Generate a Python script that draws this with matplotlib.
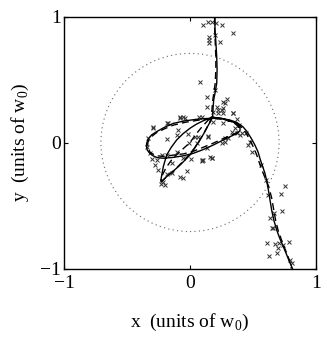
import numpy as np
import matplotlib
matplotlib.use('Agg')
import matplotlib.pyplot as plt
from matplotlib.patches import Circle

plt.rcParams['font.family'] = 'Liberation Serif'
plt.rcParams['mathtext.fontset'] = 'custom'
plt.rcParams['mathtext.rm'] = 'Liberation Serif'

# Fitted trajectory (solid).
solid_x = [0.198, 0.198, 0.205, 0.212, 0.215, 0.212, 0.200, 0.188, 0.183, 0.180,
           0.165, 0.146, 0.115, 0.079, 0.040, 0.000, -0.040, -0.079, -0.130, -0.185, -0.215, -0.228,
           -0.232, -0.228,
           -0.212, -0.185, -0.150, -0.106, -0.055, 0.000, 0.050, 0.106, 0.150, 0.185,
           0.250, 0.317, 0.360, 0.383, 0.397, 0.397,
           0.370, 0.317, 0.250, 0.185, 0.100, 0.026, -0.050, -0.132, -0.212, -0.260, -0.291,
           -0.320, -0.339, -0.346, -0.344, -0.330, -0.305, -0.265, -0.200, -0.132, -0.040,
           0.053, 0.120, 0.185,
           0.250, 0.317, 0.370, 0.420, 0.450, 0.485, 0.515, 0.540, 0.556, 0.578, 0.595,
           0.610, 0.622, 0.635, 0.648, 0.665, 0.688, 0.712, 0.741, 0.775, 0.807, 0.813]
solid_y = [1.000, 0.900, 0.800, 0.680, 0.580, 0.470, 0.400, 0.337, 0.270, 0.205,
           0.170, 0.139, 0.080, 0.020, -0.040, -0.099, -0.140, -0.179, -0.225, -0.271, -0.300, -0.315,
           -0.305, -0.280,
           -0.192, -0.099, -0.040, 0.020, 0.070, 0.113, 0.145, 0.173, 0.190, 0.200,
           0.192, 0.173, 0.155, 0.139, 0.115, 0.095,
           0.070, 0.046, 0.013, -0.020, -0.058, -0.086, -0.105, -0.118, -0.125, -0.120, -0.107,
           -0.085, -0.060, -0.030, -0.006, 0.030, 0.060, 0.086, 0.122, 0.152, 0.172,
           0.184, 0.190, 0.192,
           0.190, 0.178, 0.160, 0.125, 0.090, 0.035, -0.020, -0.075, -0.130, -0.195, -0.245,
           -0.310, -0.377, -0.456, -0.536, -0.615, -0.694, -0.760, -0.827, -0.910, -0.986, -1.000]

# Second model (dashed).
dashed_x = [0.195, 0.196, 0.200, 0.205, 0.205, 0.200, 0.190, 0.180, 0.175, 0.172,
            0.160, 0.140, 0.110, 0.075, 0.035, -0.010, -0.060, -0.110, -0.160, -0.200, -0.222,
            -0.230, -0.225,
            -0.190, -0.140, -0.066, 0.000, 0.053, 0.100, 0.146, 0.172,
            0.250, 0.317, 0.360, 0.385, 0.390,
            0.365, 0.317, 0.250, 0.185, 0.100, 0.026, -0.050, -0.132, -0.212, -0.270, -0.315,
            -0.335, -0.335, -0.315, -0.270, -0.200, -0.132, -0.040, 0.053, 0.120, 0.185,
            0.250, 0.317, 0.370, 0.415, 0.445, 0.475, 0.505, 0.530, 0.550, 0.575, 0.600,
            0.625, 0.648, 0.665, 0.680, 0.700, 0.725, 0.752, 0.780, 0.805]
dashed_y = [1.000, 0.900, 0.800, 0.680, 0.580, 0.470, 0.400, 0.330, 0.270, 0.210,
            0.170, 0.130, 0.075, 0.015, -0.045, -0.100, -0.155, -0.205, -0.250, -0.285, -0.305,
            -0.295, -0.270,
            -0.200, -0.130, -0.060, 0.000, 0.073, 0.130, 0.179, 0.200,
            0.190, 0.168, 0.148, 0.125, 0.100,
            0.075, 0.055, 0.025, -0.005, -0.040, -0.070, -0.090, -0.100, -0.110, -0.105, -0.080,
            -0.040, 0.000, 0.040, 0.075, 0.110, 0.138, 0.160, 0.175, 0.185, 0.190,
            0.185, 0.170, 0.150, 0.115, 0.075, 0.020, -0.040, -0.100, -0.160, -0.230, -0.290,
            -0.350, -0.440, -0.536, -0.620, -0.700, -0.770, -0.840, -0.910, -1.000]

# Measured positions (crosses).
cross_x = [0.101, 0.145, 0.172, 0.206, 0.251, 0.339, 0.198, 0.153, 0.153, 0.153, 0.238,
           0.079, 0.132, 0.198, 0.265, 0.291, 0.138, 0.212, 0.259, 0.278,
           0.074, 0.185, 0.225, 0.259, 0.344, 0.370, 0.392, 0.410, 0.442, 0.304, 0.278,
           0.172, 0.101, 0.005, -0.053, -0.021, -0.058, -0.079, -0.145, -0.185, -0.212,
           -0.198, -0.251, -0.278, -0.265, -0.225, -0.185, -0.106, -0.145, -0.317, -0.344,
           -0.331, -0.291, -0.172, -0.079, -0.040, -0.093, -0.185, -0.005, 0.040, 0.061,
           0.146, 0.053, -0.013, -0.106,
           0.225, 0.251, 0.339, 0.093, 0.185, 0.265, 0.357, 0.370, 0.397, 0.331, 0.278,
           0.251, 0.145, 0.132, 0.093, 0.172, 0.476, 0.463, 0.489,
           -0.291, -0.185, -0.079, -0.053, 0.093, 0.159, -0.230, -0.300,
           0.754, 0.720, 0.728, 0.635, 0.667, 0.648, 0.661, 0.608, 0.675, 0.709, 0.736,
           0.788, 0.701, 0.630, 0.688, 0.794, 0.807, 0.560, 0.600, 0.620]
cross_y = [0.933, 0.959, 0.959, 0.946, 0.933, 0.867, 0.853, 0.840, 0.813, 0.787, 0.800,
           0.483, 0.364, 0.417, 0.324, 0.343, 0.279, 0.279, 0.271, 0.311,
           0.205, 0.245, 0.231, 0.231, 0.231, 0.184, 0.139, 0.073, 0.073, 0.033, 0.006,
           -0.120, -0.139, -0.134, -0.125, -0.224, -0.284, -0.271, -0.245, -0.250, -0.311,
           -0.337, -0.218, -0.179, -0.139, -0.099, -0.099, -0.073, -0.165, -0.086, -0.033,
           0.033, 0.113, 0.152, 0.192, 0.192, 0.099, 0.025, -0.001, 0.046, 0.041,
           0.052, -0.007, 0.067, 0.060,
           0.258, 0.258, 0.231, 0.205, 0.165, 0.152, 0.113, 0.073, 0.060, 0.086, 0.038,
           -0.007, 0.046, -0.046, -0.139, -0.125, 0.006, -0.022, -0.077,
           0.125, 0.152, 0.200, 0.205, -0.144, -0.118, -0.330, -0.130,
           -0.345, -0.411, -0.541, -0.602, -0.562, -0.681, -0.681, -0.795, -0.806, -0.795, -0.813,
           -0.787, -0.840, -0.900, -0.880, -0.933, -0.959, -0.180, -0.300, -0.420]

# Dotted circle (beam waist).
circle_radius = 0.707

fig = plt.figure(figsize=(3.27, 3.38), dpi=100)
ax = fig.add_axes([64 / 327, 69.5 / 338, 252 / 327, 252 / 338])

ax.add_patch(Circle((0, 0), circle_radius, fill=False, linestyle=(0, (1, 3)),
                    edgecolor='#666666', lw=0.8))
ax.plot(cross_x, cross_y, 'x', color='#333333', markersize=3.5, markeredgewidth=0.7)
ax.plot(dashed_x, dashed_y, color='black', lw=1.0, dashes=(5, 3))
ax.plot(solid_x, solid_y, color='black', lw=1.0)

ax.set_xlim(-1, 1)
ax.set_ylim(-1, 1)
ax.set_xticks([-1, 0, 1])
ax.set_yticks([-1, 0, 1])
ax.set_xticklabels(['\u22121', '0', '1'])
ax.set_yticklabels(['\u22121', '0', '1'])
ax.tick_params(direction='in', length=3, width=0.8, top=True, right=True,
               labelsize=14, pad=2)
ax.tick_params(axis='x', pad=5)
for s in ax.spines.values():
    s.set_linewidth(1.0)

ax.set_xlabel(r'x  (units of w$_0$)', fontsize=14, labelpad=14)
ax.set_ylabel(r'y  (units of w$_0$)', fontsize=14, labelpad=7)

fig.savefig('out.png', dpi=100)
